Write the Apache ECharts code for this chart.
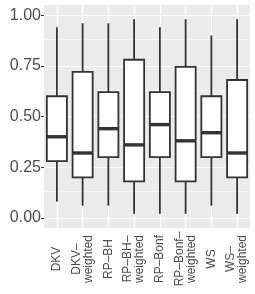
<!DOCTYPE html>
<html><head><meta charset="utf-8">
<script src="https://cdn.jsdelivr.net/npm/echarts@6/dist/echarts.min.js"></script>
<style>html,body{margin:0;padding:0;background:#fff}#c{width:255px;height:294px}</style>
</head><body><div id="c"></div>
<script>
var categories = ['DKV','DKV–\nweighted','RP–BH','RP–BH–\nweighted','RP–Bonf','RP–Bonf–\nweighted','WS','WS–\nweighted'];
var lowerWhisker = [0.08,0.06,0.06,0.02,0.02,0.02,0.06,0.02];
var q1 =           [0.28,0.20,0.30,0.18,0.30,0.18,0.30,0.20];
var median =       [0.40,0.32,0.44,0.36,0.46,0.38,0.42,0.32];
var q3 =           [0.60,0.72,0.62,0.78,0.62,0.745,0.60,0.68];
var upperWhisker = [0.94,0.96,0.96,0.98,0.94,0.98,0.90,0.98];
var yTicks = [0,0.25,0.5,0.75,1];
var yMinor = [0.125,0.375,0.625,0.875];
var yMin = -0.05, yMax = 1.05;

var boxData = categories.map(function(c,i){return [i, lowerWhisker[i],q1[i],median[i],q3[i],upperWhisker[i]];});
var labelData = categories.map(function(c,i){return [i, yMin];});

var chart = echarts.init(document.getElementById('c'), null, {renderer:'canvas'});
var font = 'Liberation Sans, Arial, sans-serif';
chart.setOption({
  animation:false,
  grid:{left:44,right:5,top:5,bottom:66,show:true,backgroundColor:'#ebebeb',borderWidth:0,outerBoundsMode:'none'},
  xAxis:{type:'category',data:categories,
    axisLine:{show:false},
    axisTick:{show:true,alignWithLabel:true,length:3,lineStyle:{color:'#333',width:1}},
    axisLabel:{show:false},
    splitLine:{show:false}},
  yAxis:{type:'value',min:yMin,max:yMax,
    axisLine:{show:false},
    axisTick:{show:true,length:3,customValues:yTicks,lineStyle:{color:'#333',width:1}},
    axisLabel:{customValues:yTicks,color:'#4d4d4d',fontSize:16,fontFamily:font,margin:3,
      formatter:function(v){return v.toFixed(2);}},
    splitLine:{show:false}},
  series:[
    {type:'custom',data:boxData,z:3,
      encode:{x:0,y:[1,2,3,4,5]},
      markLine:{silent:true,symbol:'none',z:1,label:{show:false},animation:false,
        data:[].concat(
          yMinor.map(function(v){return {yAxis:v,lineStyle:{color:'#fff',width:0.6,type:'solid'}};}),
          yTicks.map(function(v){return {yAxis:v,lineStyle:{color:'#fff',width:1.2,type:'solid'}};}),
          categories.map(function(c){return {xAxis:c,lineStyle:{color:'#fff',width:1.2,type:'solid'}};})
        )},
      renderItem:function(params,api){
        var i = api.value(0);
        var pLo = api.coord([i, api.value(1)]);
        var pQ1 = api.coord([i, api.value(2)]);
        var pMd = api.coord([i, api.value(3)]);
        var pQ3 = api.coord([i, api.value(4)]);
        var pHi = api.coord([i, api.value(5)]);
        var w = api.size([1,0])[0]*0.78;
        var x = pMd[0];
        var st = {stroke:'#333333',lineWidth:1.8};
        return {type:'group',children:[
          {type:'line',shape:{x1:x,y1:pLo[1],x2:x,y2:pQ1[1]},style:st},
          {type:'line',shape:{x1:x,y1:pQ3[1],x2:x,y2:pHi[1]},style:st},
          {type:'rect',shape:{x:x-w/2,y:pQ3[1],width:w,height:pQ1[1]-pQ3[1]},style:{fill:'#ffffff',stroke:'#333333',lineWidth:1.8}},
          {type:'line',shape:{x1:x-w/2,y1:pMd[1],x2:x+w/2,y2:pMd[1]},style:{stroke:'#333333',lineWidth:3.4}}
        ]};
      }},
    {type:'custom',name:'xlabels',data:labelData,z:5,clip:false,silent:true,
      encode:{x:0,y:1},
      renderItem:function(params,api){
        var i = api.value(0);
        var p = api.coord([i, api.value(1)]);
        return {type:'text',x:p[0],y:p[1]+31,rotation:Math.PI/2,
          style:{text:categories[i],align:'center',verticalAlign:'middle',fontSize:12,lineHeight:12,
            fontFamily:font,fill:'#4d4d4d'}};
      }}
  ]
});
</script></body></html>
